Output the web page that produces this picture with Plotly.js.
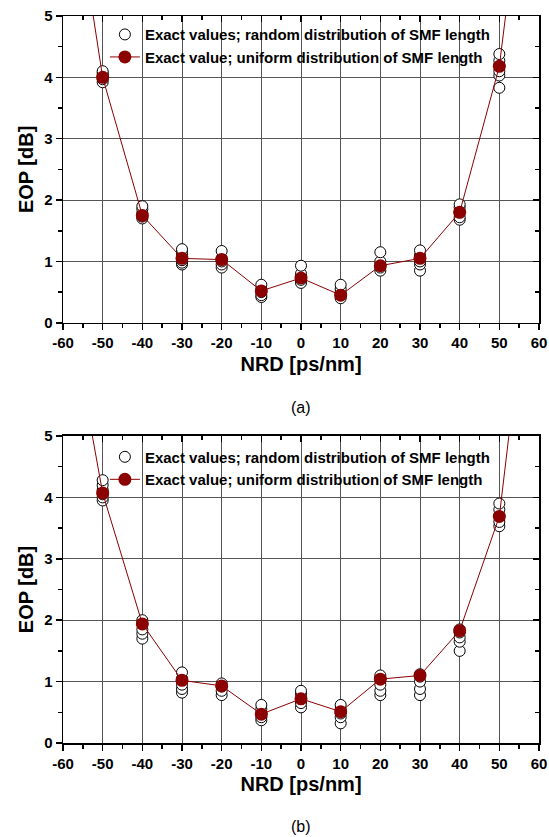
<!DOCTYPE html>
<html>
<head>
<meta charset="utf-8">
<script src="https://cdn.plot.ly/plotly-3.0.1.min.js"></script>
<style>html,body{margin:0;padding:0;background:#fff;}#chart{width:549px;height:837px;}</style>
</head>
<body>
<div id="chart"></div>
<script>
// NRD values (ps/nm) where random-distribution results were computed
const nrd = [-50, -40, -30, -20, -10, 0, 10, 20, 30, 40, 50];
// NRD values for the uniform-distribution curve (end points lie above the plotted range)
const nrdLine = [-60, -50, -40, -30, -20, -10, 0, 10, 20, 30, 40, 50, 60];

// Panel (a)
const uniformA = [8.2, 4.0, 1.75, 1.05, 1.03, 0.52, 0.73, 0.45, 0.93, 1.05, 1.80, 4.18, 9.4];
const randomA = [
  [3.92, 3.97, 4.03, 4.07, 4.10],
  [1.70, 1.73, 1.78, 1.85, 1.90],
  [0.95, 0.98, 1.02, 1.10, 1.15, 1.20],
  [0.90, 0.95, 1.00, 1.05, 1.17],
  [0.42, 0.45, 0.50, 0.55, 0.62],
  [0.65, 0.70, 0.75, 0.80, 0.93],
  [0.40, 0.45, 0.50, 0.55, 0.62],
  [0.85, 0.90, 0.95, 1.00, 1.15],
  [0.85, 0.95, 1.00, 1.10, 1.18],
  [1.68, 1.72, 1.80, 1.88, 1.93],
  [3.83, 4.03, 4.10, 4.20, 4.27, 4.38]
];

// Panel (b)
const uniformB = [7.65, 4.07, 1.94, 1.02, 0.93, 0.47, 0.72, 0.51, 1.04, 1.10, 1.83, 3.69, 9.15];
const randomB = [
  [3.95, 4.00, 4.05, 4.12, 4.20, 4.28],
  [1.70, 1.78, 1.85, 1.95, 2.00],
  [0.82, 0.88, 0.95, 1.05, 1.15],
  [0.78, 0.85, 0.92, 0.97],
  [0.37, 0.42, 0.48, 0.55, 0.62],
  [0.58, 0.65, 0.72, 0.80, 0.85],
  [0.32, 0.42, 0.48, 0.55, 0.62],
  [0.78, 0.85, 0.95, 1.05, 1.10],
  [0.78, 0.88, 1.00, 1.08, 1.12],
  [1.50, 1.65, 1.72, 1.80, 1.85],
  [3.53, 3.60, 3.70, 3.80, 3.90]
];

const xTickVals = [-60, -50, -40, -30, -20, -10, 0, 10, 20, 30, 40, 50, 60];
const yTickVals = [0, 1, 2, 3, 4, 5];

const nameRandom = 'Exact values; random distribution of SMF length';
const nameUniform = 'Exact value; uniform distribution of SMF length';
const captions = ['(a)', '(b)'];
const xTitle = 'NRD [ps/nm]';
const yTitle = 'EOP [dB]';

const red = '#8B0000';
const FONT = 'Arial, "Liberation Sans", sans-serif';

function flatten(groups) {
  const xs = [], ys = [];
  groups.forEach((g, i) => g.forEach(v => { xs.push(nrd[i]); ys.push(v); }));
  return {xs, ys};
}

const fa = flatten(randomA), fb = flatten(randomB);

const data = [
  {x: fa.xs, y: fa.ys, type: 'scatter', mode: 'markers', name: nameRandom, xaxis: 'x', yaxis: 'y', legend: 'legend',
   marker: {symbol: 'circle', size: 11, color: '#ffffff', line: {color: '#000000', width: 1}}, cliponaxis: true},
  {x: nrdLine, y: uniformA, type: 'scatter', mode: 'lines+markers', name: nameUniform, xaxis: 'x', yaxis: 'y', legend: 'legend',
   line: {color: red, width: 1}, marker: {symbol: 'circle', size: 13, color: red}, cliponaxis: true},
  {x: fb.xs, y: fb.ys, type: 'scatter', mode: 'markers', name: nameRandom, xaxis: 'x2', yaxis: 'y2', legend: 'legend2',
   marker: {symbol: 'circle', size: 11, color: '#ffffff', line: {color: '#000000', width: 1}}, cliponaxis: true},
  {x: nrdLine, y: uniformB, type: 'scatter', mode: 'lines+markers', name: nameUniform, xaxis: 'x2', yaxis: 'y2', legend: 'legend2',
   line: {color: red, width: 1}, marker: {symbol: 'circle', size: 13, color: red}, cliponaxis: true},
  // empty helper traces so the mirrored (top/right) axes are drawn
  {x: [null], y: [null], type: 'scatter', mode: 'markers', xaxis: 'x3', yaxis: 'y3', showlegend: false, hoverinfo: 'skip'},
  {x: [null], y: [null], type: 'scatter', mode: 'markers', xaxis: 'x4', yaxis: 'y4', showlegend: false, hoverinfo: 'skip'}
];

const tickFont = {family: FONT, size: 15, color: '#000', weight: 700};
const titleFont = {family: FONT, size: 20, color: '#000', weight: 700};
const xMinorVals = [-55, -45, -35, -25, -15, -5, 5, 15, 25, 35, 45, 55];
const yMinorVals = [0.5, 1.5, 2.5, 3.5, 4.5];

function xAxis(anchor) {
  return {
    anchor: anchor, range: [-60, 60], tickvals: xTickVals, ticktext: xTickVals.map(String),
    ticks: 'outside', ticklen: 6, tickwidth: 1.5, tickcolor: '#000', ticklabeloverflow: 'allow',
    minor: {tickvals: xMinorVals, ticks: 'outside', ticklen: 4, tickwidth: 1.5, tickcolor: '#000', showgrid: false},
    showline: true, linecolor: '#000', linewidth: 1.5,
    showgrid: true, gridcolor: '#555555', gridwidth: 1,
    zeroline: false, tickfont: tickFont, automargin: false, fixedrange: true,
    title: {text: xTitle, font: titleFont, standoff: 6}
  };
}
function yAxis(anchor, domain) {
  return {
    anchor: anchor, domain: domain, range: [0, 5], tickvals: yTickVals, ticktext: yTickVals.map(String),
    ticks: 'outside', ticklen: 6, tickwidth: 1.5, tickcolor: '#000', ticklabeloverflow: 'allow',
    minor: {tickvals: yMinorVals, ticks: 'outside', ticklen: 4, tickwidth: 1.5, tickcolor: '#000', showgrid: false},
    showline: true, linecolor: '#000', linewidth: 1.5,
    showgrid: true, gridcolor: '#555555', gridwidth: 1,
    zeroline: false, tickfont: tickFont, automargin: false, fixedrange: true,
    title: {text: yTitle, font: titleFont, standoff: 5}
  };
}
function xMirror(over, anchor) {
  return {overlaying: over, anchor: anchor, side: 'top', range: [-60, 60], tickvals: xTickVals,
    ticks: 'inside', ticklen: 6, tickwidth: 1.5, tickcolor: '#000',
    minor: {tickvals: xMinorVals, ticks: 'inside', ticklen: 4, tickwidth: 1.5, tickcolor: '#000'},
    showticklabels: false, showline: true, linecolor: '#000', linewidth: 1.5, showgrid: false, zeroline: false, fixedrange: true};
}
function yMirror(over, anchor) {
  return {overlaying: over, anchor: anchor, side: 'right', range: [0, 5], tickvals: yTickVals,
    ticks: 'inside', ticklen: 6, tickwidth: 1.5, tickcolor: '#000',
    minor: {tickvals: yMinorVals, ticks: 'inside', ticklen: 4, tickwidth: 1.5, tickcolor: '#000'},
    showticklabels: false, showline: true, linecolor: '#000', linewidth: 1.5, showgrid: false, zeroline: false, fixedrange: true};
}

const legendStyle = {
  font: {family: FONT, size: 15, color: '#000', weight: 700},
  bgcolor: 'rgba(0,0,0,0)', borderwidth: 0, xanchor: 'left', yanchor: 'top',
  tracegroupgap: 0, itemclick: false, itemdoubleclick: false
};

const layout = {
  width: 549, height: 837,
  margin: {l: 63, r: 10, t: 16, b: 94},
  paper_bgcolor: '#ffffff', plot_bgcolor: '#ffffff',
  font: {family: FONT, color: '#000'},
  showlegend: true,
  xaxis: xAxis('y'),
  yaxis: yAxis('x', [0.578, 1]),
  xaxis2: xAxis('y2'),
  yaxis2: yAxis('x2', [0, 0.4223]),
  xaxis3: xMirror('x', 'y3'),
  yaxis3: yMirror('y', 'x3'),
  xaxis4: xMirror('x2', 'y4'),
  yaxis4: yMirror('y2', 'x4'),
  legend: Object.assign({x: 0.088, y: 0.997}, legendStyle),
  legend2: Object.assign({x: 0.088, y: 0.416}, legendStyle),
  annotations: [
    {text: captions[0], xref: 'paper', yref: 'paper', x: 0.5, y: 0.462, xanchor: 'center', yanchor: 'middle', showarrow: false,
     font: {family: FONT, size: 16, color: '#000'}},
    {text: captions[1], xref: 'paper', yref: 'paper', x: 0.5, y: -0.1155, xanchor: 'center', yanchor: 'middle', showarrow: false,
     font: {family: FONT, size: 16, color: '#000'}}
  ]
};

Plotly.newPlot('chart', data, layout, {staticPlot: true, displayModeBar: false});
</script>
</body>
</html>
